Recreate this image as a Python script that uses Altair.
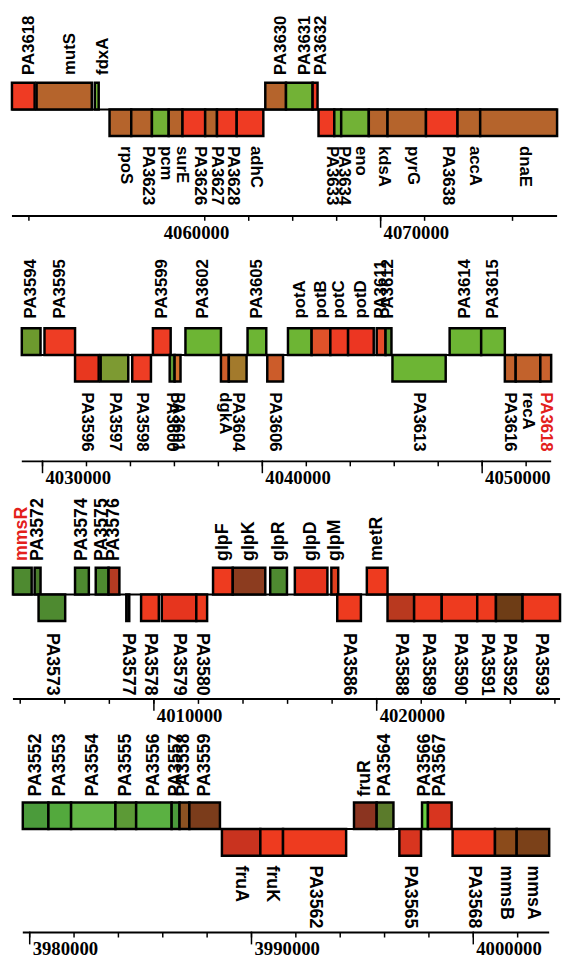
import altair as alt
import pandas as pd

# ---------------- Panel 1 (top) ----------------
P1_GENE = ["PA3618", "mutS", "fdxA", "rpoS", "PA3623", "pcm", "surE", "PA3626", "PA3627", "PA3628",
           "adhC", "PA3630", "PA3631", "PA3632", "PA3633", "PA3634", "eno", "kdsA", "pyrG", "PA3638",
           "accA", "dnaE"]
P1_START = [4053229, 4054350, 4056996, 4057668, 4058655, 4059596, 4060359, 4060987, 4062018, 4062556,
            4063453, 4064753, 4065695, 4066906, 4067175, 4067892, 4068206, 4069462, 4070314, 4072063,
            4073498, 4074529]
P1_END = [4054260, 4056861, 4057175, 4058655, 4059596, 4060359, 4060987, 4062018, 4062556, 4063453,
          4064664, 4065695, 4066906, 4067130, 4067892, 4068206, 4069462, 4070314, 4072063, 4073498,
          4074529, 4078027]
P1_STRAND = [1, 1, 1, -1, -1, -1, -1, -1, -1, -1, -1, 1, 1, 1, -1, -1, -1, -1, -1, -1, -1, -1]
P1_COLOR = ["#ef3b23", "#b5642c", "#72b236", "#b5642c", "#b5642c", "#72b236", "#b5642c", "#ef3b23",
            "#b5642c", "#ef3b23", "#ef3b23", "#b5642c", "#72b236", "#ef3b23", "#ef3b23", "#72b236",
            "#72b236", "#b5642c", "#b5642c", "#ef3b23", "#b5642c", "#b5642c"]
P1_RED_LABELS = []
P1_TICKS = [4054000, 4062000, 4064000, 4066000, 4068000, 4070000, 4072000, 4076000]
P1_LONG_TICKS = [4070000]
P1_AXIS_LABELS = [4060000, 4070000]
P1_DOMAIN = [4053049, 4078161]

# ---------------- Panel 2 ----------------
P2_GENE = ["PA3594", "PA3595", "PA3596", "PA3597", "PA3598", "PA3599", "PA3600", "PA3601", "PA3602",
           "dgkA", "PA3604", "PA3605", "PA3606", "potA", "potB", "potC", "potD", "PA3611", "PA3612",
           "PA3613", "PA3614", "PA3615", "PA3616", "recA", "PA3618"]
P2_START = [4029058, 4030090, 4031480, 4032646, 4034081, 4035022, 4035785, 4036009, 4036502,
            4038117, 4038475, 4039327, 4040224, 4041166, 4042242, 4043094, 4043901, 4045202, 4045605,
            4045919, 4048520, 4049955, 4051031, 4051525, 4052646]
P2_END = [4029910, 4031480, 4032556, 4033901, 4034933, 4035830, 4036009, 4036278, 4038117,
          4038475, 4039283, 4040179, 4040942, 4042242, 4043094, 4043901, 4045067, 4045605, 4045874,
          4048341, 4049955, 4051031, 4051525, 4052646, 4053139]
P2_STRAND = [1, 1, -1, -1, -1, 1, -1, -1, 1, -1, -1, 1, -1, 1, 1, 1, 1, 1, 1, -1, 1, 1, -1, -1, -1]
P2_COLOR = ["#6d9a2e", "#ee3d24", "#e8371f", "#7d9a32", "#ee3d24", "#ee3d24", "#5f9c34", "#d3712c",
            "#6db534", "#cf5e2a", "#a37a2c", "#6db534", "#cc5c2a", "#6db534", "#e0522a", "#ee3d24",
            "#ec3622", "#e64c2a", "#5f9c34", "#6db534", "#6db534", "#6db534", "#c2622c", "#c2622c",
            "#c9622e"]
P2_RED_LABELS = ["PA3618"]
P2_TICKS = [4030000, 4032000, 4034000, 4036000, 4038000, 4040000, 4042000, 4044000, 4046000,
            4048000, 4050000, 4052000]
P2_LONG_TICKS = [4030000, 4040000, 4050000]
P2_AXIS_LABELS = [4030000, 4040000, 4050000]
P2_DOMAIN = [4028430, 4053542]

# ---------------- Panel 3 ----------------
P3_GENE = ["mmsR", "PA3572", "PA3573", "PA3574", "PA3575", "PA3576", "PA3577", "PA3578", "PA3579",
           "PA3580", "glpF", "glpK", "glpR", "glpD", "glpM", "PA3586", "metR", "PA3588", "PA3589",
           "PA3590", "PA3591", "PA3592", "PA3593"]
P3_START = [4003673, 4004646, 4004823, 4006460, 4007389, 4007965, 4008761, 4009425, 4010354,
            4011903, 4012655, 4013540, 4015221, 4016327, 4017965, 4018230, 4019558, 4020487, 4021681,
            4022920, 4024513, 4025354, 4026549]
P3_END = [4004513, 4004912, 4006018, 4007080, 4007965, 4008451, 4008894, 4010221, 4011903,
          4012389, 4013540, 4015000, 4015973, 4017788, 4018274, 4019292, 4020487, 4021681, 4022920,
          4024513, 4025354, 4026549, 4028230]
P3_STRAND = [1, 1, -1, 1, 1, 1, -1, -1, -1, -1, 1, 1, 1, 1, 1, -1, 1, -1, -1, -1, -1, -1, -1]
P3_COLOR = ["#4e8a30", "#4a7c2c", "#4e8a30", "#4e8a30", "#4e8a30", "#b43b22", "#1a1a1a", "#ee3b1f",
            "#e6351e", "#ee3b1f", "#ee3b1f", "#8c3c1f", "#4e8a30", "#e6351e", "#e0401f", "#ee3b1f",
            "#ee3b1f", "#b9391f", "#ee3b1f", "#ee3b1f", "#ee3b1f", "#6e3d16", "#ee3b1f"]
P3_RED_LABELS = ["mmsR"]
P3_TICKS = [4004000, 4006000, 4008000, 4010000, 4012000, 4014000, 4016000, 4018000, 4020000,
            4022000, 4024000, 4026000, 4028000]
P3_LONG_TICKS = [4010000, 4020000]
P3_AXIS_LABELS = [4010000, 4020000]
P3_DOMAIN = [4003451, 4028230]

# ---------------- Panel 4 (bottom) ----------------
P4_GENE = ["PA3552", "PA3553", "PA3554", "PA3555", "PA3556", "PA3557", "PA3558", "PA3559", "fruA",
           "fruK", "PA3562", "fruR", "PA3564", "PA3565", "PA3566", "PA3567", "PA3568", "mmsB", "mmsA"]
P4_START = [3979689, 3980844, 3981867, 3983867, 3984800, 3986400, 3986756, 3987200, 3988667,
            3990400, 3991422, 3994622, 3995644, 3996667, 3997689, 3997956, 3999067, 4000978, 4001956]
P4_END = [3980844, 3981867, 3983867, 3984800, 3986400, 3986756, 3987200, 3988578, 3990400,
          3991422, 3994267, 3995644, 3996400, 3997644, 3997956, 3999022, 4000978, 4001956, 4003422]
P4_STRAND = [1, 1, 1, 1, 1, 1, 1, 1, -1, -1, -1, 1, 1, -1, 1, 1, -1, -1, -1]
P4_COLOR = ["#4b9b3b", "#53a93d", "#63b646", "#5c9a36", "#5bb142", "#4b9b3b", "#8c5222", "#7b3c1b",
            "#c9331f", "#ee3b1f", "#ee3b1f", "#8b3420", "#5b7b2b", "#d8351f", "#6ad040", "#d8351f",
            "#ee3b1f", "#8b4b1b", "#7b4119"]
P4_RED_LABELS = []
P4_TICKS = [3980000, 3982000, 3984000, 3986000, 3988000, 3990000, 3992000, 3994000, 3996000,
            3998000, 4000000, 4002000]
P4_LONG_TICKS = [3980000, 3990000, 4000000]
P4_AXIS_LABELS = [3980000, 3990000, 4000000]
P4_DOMAIN = [3979022, 4003911]

ROW = 27
WIDTH = 560
LABEL_FONT = "Liberation Sans"
AXIS_FONT = "Liberation Serif"


def panel(genes, starts, ends, strands, colors, red_labels, ticks, long_ticks, axis_labels, dom,
          up, down, fs, gap_up, gap_down, lab_dx=0):
    h = up + down
    df = pd.DataFrame({"gene": genes, "start": starts, "end": ends, "strand": strands, "fill": colors})
    df["top"] = df["strand"] * ROW
    df["zero"] = 0
    df["mid"] = (df["start"] + df["end"]) / 2
    df["labcol"] = ["#e3201b" if g in red_labels else "black" for g in genes]
    df["laby"] = [ROW + gap_up if s > 0 else -(ROW + gap_down) for s in strands]

    xs = alt.Scale(domain=dom, nice=False, zero=False)
    ys = alt.Scale(domain=[-down, up], nice=False, zero=False)
    base = alt.Chart(df)

    baseline = base.mark_rule(color="black", strokeWidth=2).encode(
        x=alt.X("min(start):Q", scale=xs, axis=None),
        x2="max(end):Q",
        y=alt.Y("zero:Q", scale=ys, axis=None),
    )
    axisline = base.mark_rule(color="black", strokeWidth=2).encode(
        x=alt.X("min(start):Q", scale=xs, axis=None),
        x2="max(end):Q",
        y=alt.value(h),
    )
    boxes = base.mark_rect(stroke="black", strokeWidth=2.5).encode(
        x=alt.X("start:Q", scale=xs, axis=None),
        x2="end:Q",
        y=alt.Y("top:Q", scale=ys, axis=None),
        y2="zero:Q",
        fill=alt.Fill("fill:N", scale=None),
    )
    lab_up = base.transform_filter("datum.strand > 0").mark_text(
        angle=270, align="left", baseline="middle", font=LABEL_FONT, fontSize=fs,
        fontWeight="bold", xOffset=lab_dx
    ).encode(
        x=alt.X("mid:Q", scale=xs, axis=None),
        y=alt.Y("laby:Q", scale=ys, axis=None),
        text="gene:N",
        color=alt.Color("labcol:N", scale=None),
    )
    lab_dn = base.transform_filter("datum.strand < 0").mark_text(
        angle=90, align="left", baseline="middle", font=LABEL_FONT, fontSize=fs,
        fontWeight="bold", xOffset=lab_dx
    ).encode(
        x=alt.X("mid:Q", scale=xs, axis=None),
        y=alt.Y("laby:Q", scale=ys, axis=None),
        text="gene:N",
        color=alt.Color("labcol:N", scale=None),
    )
    minor = alt.Chart(pd.DataFrame({"t": ticks})).mark_rule(color="black", strokeWidth=1.5).encode(
        x=alt.X("t:Q", scale=xs, axis=None), y=alt.value(h), y2=alt.value(h + 5)
    )
    major = alt.Chart(pd.DataFrame({"t": long_ticks})).mark_rule(color="black", strokeWidth=1.5).encode(
        x=alt.X("t:Q", scale=xs, axis=None), y=alt.value(h - 1), y2=alt.value(h + 12)
    )
    tlabels = alt.Chart(pd.DataFrame({"t": axis_labels, "lab": [str(v) for v in axis_labels]})).mark_text(
        align="left", baseline="top", dx=3, font=AXIS_FONT, fontSize=19, fontWeight="bold", color="black"
    ).encode(
        x=alt.X("t:Q", scale=xs, axis=None), y=alt.value(h + 8), text="lab:N"
    )
    return alt.layer(baseline, axisline, boxes, lab_up, lab_dn, minor, major, tlabels).properties(
        width=WIDTH, height=h
    )


p1 = panel(P1_GENE, P1_START, P1_END, P1_STRAND, P1_COLOR, P1_RED_LABELS, P1_TICKS, P1_LONG_TICKS,
           P1_AXIS_LABELS, P1_DOMAIN, up=92, down=108, fs=17, gap_up=8, gap_down=10, lab_dx=6)
p2 = panel(P2_GENE, P2_START, P2_END, P2_STRAND, P2_COLOR, P2_RED_LABELS, P2_TICKS, P2_LONG_TICKS,
           P2_AXIS_LABELS, P2_DOMAIN, up=100, down=108, fs=17, gap_up=10, gap_down=11)
p3 = panel(P3_GENE, P3_START, P3_END, P3_STRAND, P3_COLOR, P3_RED_LABELS, P3_TICKS, P3_LONG_TICKS,
           P3_AXIS_LABELS, P3_DOMAIN, up=94, down=106, fs=18, gap_up=7, gap_down=12)
p4 = panel(P4_GENE, P4_START, P4_END, P4_STRAND, P4_COLOR, P4_RED_LABELS, P4_TICKS, P4_LONG_TICKS,
           P4_AXIS_LABELS, P4_DOMAIN, up=91, down=105, fs=18, gap_up=6, gap_down=10)

chart = alt.vconcat(p1, p2, p3, p4, spacing=41, bounds="flush").properties(
    padding=0, background="white"
).configure_view(strokeWidth=0)

chart.save("out.html", embed_options={"renderer": "svg", "actions": False})
